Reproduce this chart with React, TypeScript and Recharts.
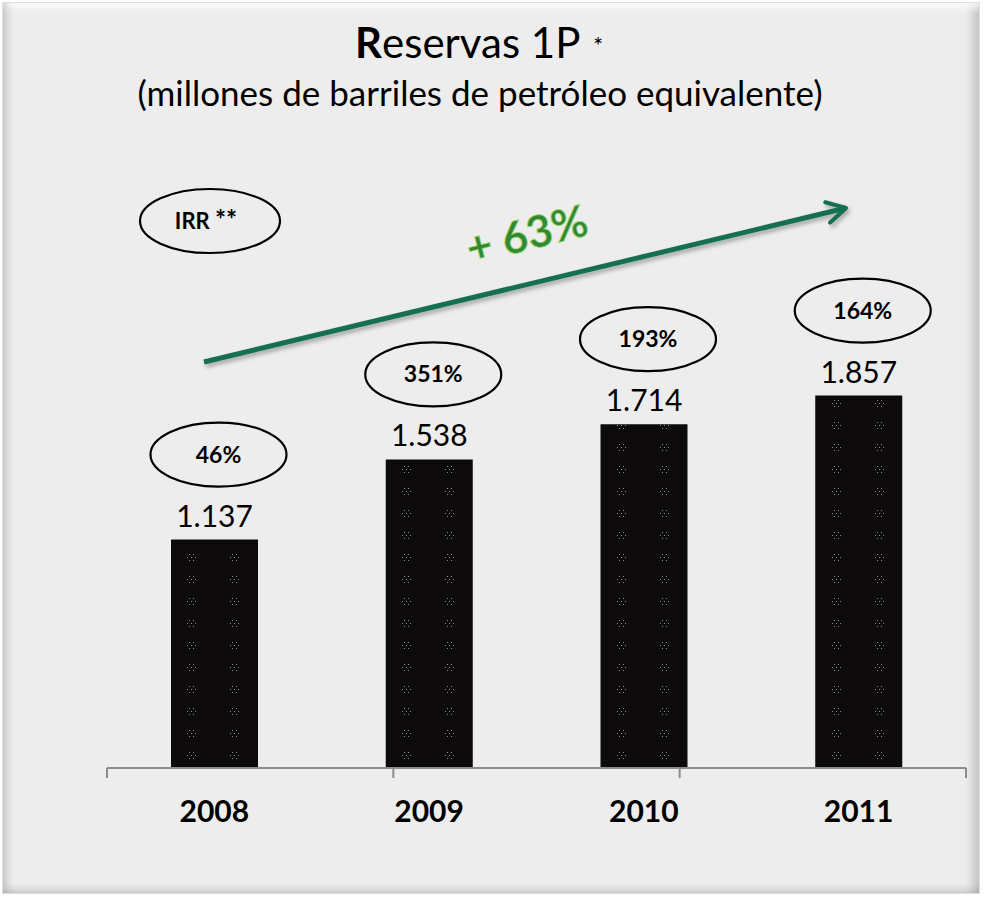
import React from "react";
import { Bar, BarChart, LabelList, XAxis, YAxis } from "recharts";

const years = ["2008", "2009", "2010", "2011"];
const reservas = [1137, 1538, 1714, 1857];
const irr = ["46%", "351%", "193%", "164%"];
const edgeTicks = [0, 1, 2, 3, 4];
const yDomain = [0, 2000];

const data = years.map((year, i) => ({ year, reservas: reservas[i], irr: irr[i] }));

const FONT = "Lato, 'Open Sans', sans-serif";
const GREEN = "#17704f";

// 1137 -> "1.137"
const fmt = (v: any) => String(v).replace(/\B(?=(\d{3})+(?!\d))/g, ".");

const IrrBubble = (props: any) => {
  const { x, y, width, value } = props;
  const cx = x + width / 2 + 4;
  const cy = y - 85;
  return (
    <g>
      <ellipse cx={cx} cy={cy} rx={68} ry={32} fill="none" stroke="#000" strokeWidth={2.2} />
      <text x={cx} y={cy + 8} textAnchor="middle" fontFamily={FONT} fontWeight={700} fontSize={23} fill="#000">
        {value}
      </text>
    </g>
  );
};

export default function App() {
  return (
    <div style={{ position: "absolute", left: 0, top: 0, width: 984, height: 897, background: "#fff", fontFamily: FONT }}>
      {/* marco */}
      <div
        style={{
          position: "absolute",
          left: 2,
          top: 2,
          width: 978,
          height: 892,
          boxSizing: "border-box",
          background: "#ededed",
          border: "1px solid #dedede",
          boxShadow:
            "inset 10px 0 8px -6px rgba(0,0,0,0.16), inset 0 10px 8px -6px rgba(255,255,255,0.95), inset -12px 0 10px -6px rgba(0,0,0,0.18), inset 0 -8px 8px -5px rgba(0,0,0,0.16)",
        }}
      />
      <div style={{ position: "absolute", left: 0, top: 0 }}>
        <BarChart width={984} height={897} data={data} margin={{ top: 367, right: 18, left: 107, bottom: 128 }}>
          <YAxis hide domain={yDomain} />
          <XAxis
            xAxisId="edge"
            type="number"
            domain={[0, 4]}
            allowDataOverflow
            ticks={edgeTicks}
            height={1}
            tickSize={10}
            stroke="#8c8c8c"
            strokeWidth={2}
            tickFormatter={() => ""}
          />
          <XAxis
            dataKey="year"
            height={1}
            axisLine={false}
            tickLine={false}
            tickMargin={28}
            tick={{ fontSize: 30, fontWeight: 700, fill: "#000", fontFamily: FONT }}
          />
          <Bar dataKey="reservas" barSize={87} fill="url(#barDots)" isAnimationActive={false}>
            <LabelList
              dataKey="reservas"
              position="top"
              offset={13}
              formatter={fmt}
              style={{ fontSize: 30, fill: "#000", fontFamily: FONT }}
            />
            <LabelList dataKey="irr" content={IrrBubble} />
          </Bar>
        </BarChart>
      </div>
      <svg width={984} height={897} style={{ position: "absolute", left: 0, top: 0, pointerEvents: "none" }}>
        <defs>
          <pattern id="barDots" patternUnits="userSpaceOnUse" x={171} y={0} width={43} height={22}>
            <rect width={43} height={22} fill="#0c0a0a" />
            <rect x={18} y={4} width={1} height={1} fill="#8a8a8a" />
            <rect x={22} y={4} width={1} height={1} fill="#8a8a8a" />
            <rect x={16} y={7} width={1} height={1} fill="#8a8a8a" />
            <rect x={20} y={7} width={1} height={1} fill="#8a8a8a" />
            <rect x={24} y={7} width={1} height={1} fill="#8a8a8a" />
            <rect x={18} y={10} width={1} height={1} fill="#8a8a8a" />
            <rect x={22} y={10} width={1} height={1} fill="#8a8a8a" />
          </pattern>
          <marker id="head" viewBox="0 0 12 12" refX={10} refY={6} markerWidth={5} markerHeight={5} orient="auto" markerUnits="strokeWidth">
            <path d="M1,1 L10,6 L1,11" fill="none" stroke={GREEN} strokeWidth={2} strokeLinecap="round" strokeLinejoin="round" />
          </marker>
          <filter id="sh" x="-10%" y="-50%" width="120%" height="200%">
            <feDropShadow dx={2} dy={3} stdDeviation={2} floodColor="#000" floodOpacity={0.3} />
          </filter>
        </defs>

        {/* titulo */}
        <text x={355} y={58} fontFamily={FONT} fontSize={42} fill="#000">
          <tspan fontWeight={700}>R</tspan>eservas 1P
        </text>
        <text x={593} y={54} fontFamily={FONT} fontSize={24} fill="#000">*</text>
        <text x={480} y={106} textAnchor="middle" fontFamily={FONT} fontSize={35} fill="#000">
          (millones de barriles de petróleo equivalente)
        </text>

        {/* IRR */}
        <ellipse cx={210} cy={221} rx={70} ry={32} fill="none" stroke="#000" strokeWidth={2.2} />
        <text x={206} y={229} textAnchor="middle" fontFamily={FONT} fontWeight={700} fontSize={22} fill="#000">
          IRR <tspan fontSize={26}>**</tspan>
        </text>

        {/* flecha + 63% */}
        <line x1={204} y1={362} x2={846} y2={208} stroke={GREEN} strokeWidth={5} markerEnd="url(#head)" filter="url(#sh)" />
        <text
          x={527}
          y={250}
          textAnchor="middle"
          transform="rotate(-14 527 235)"
          fontFamily={FONT}
          fontWeight={700}
          fontSize={44}
          fill="#2f8a36"
          stroke="#a5d46a"
          strokeWidth={0.8}
        >
          + 63%
        </text>
      </svg>
    </div>
  );
}
